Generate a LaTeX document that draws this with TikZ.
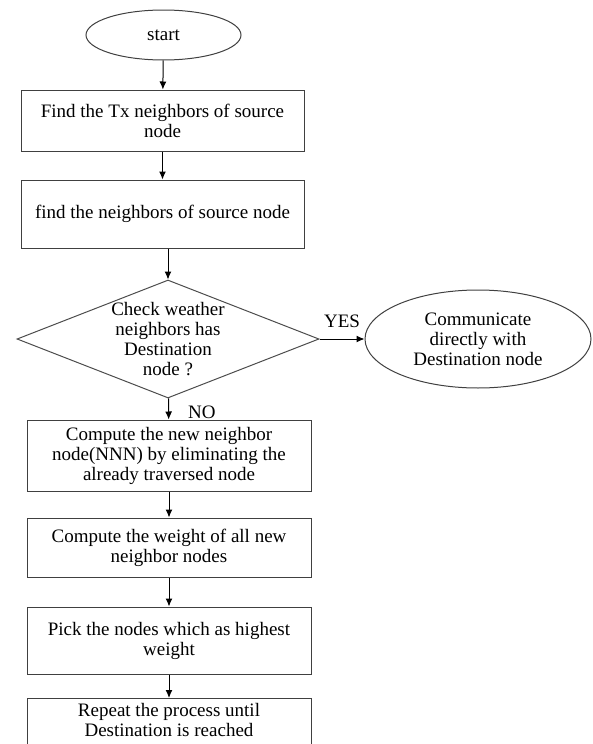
\documentclass[tikz,border=0pt]{standalone}
\usepackage{fontspec}
\setmainfont{Liberation Serif}
\usetikzlibrary{shapes.geometric,arrows.meta}

\begin{document}
\begin{tikzpicture}[x=1pt, y=-1pt, line width=1pt, >={Latex[length=8pt,width=7pt]},
    font=\fontsize{19}{20}\selectfont,
    box/.style = {draw=black!75, align=center, inner sep=0pt, minimum width=284pt},
    term/.style = {draw=black!75, ellipse, align=center, inner sep=0pt},
    decision/.style = {draw=black!70, diamond, align=center, inner sep=0pt, aspect=2.56},
    lbl/.style = {inner sep=0pt}]
    \useasboundingbox (0,0) rectangle (592,744);
    \node[term, minimum width=155pt, minimum height=50pt] (start) at (163.5,35) {start};
    \node[box, minimum width=283pt, minimum height=61pt] (find1) at (162.5,120.5) {Find the Tx neighbors of source\\node};
    \node[box, minimum width=283pt, minimum height=68pt] (find2) at (162.5,214) {find the neighbors of source node};
    \node[decision, minimum width=302pt, minimum height=118pt] (check) at (168,339) {Check weather\\neighbors has\\Destination\\node ?};
    \node[term, minimum width=226pt, minimum height=98pt] (comm) at (478,339) {Communicate\\directly with\\Destination node};
    \node[box, minimum height=71pt] (nnn) at (169,455.5) {Compute the new neighbor\\node(NNN) by eliminating the\\already traversed node};
    \node[box, minimum height=59pt] (weight) at (169,547.5) {Compute the weight of all new\\neighbor nodes};
    \node[box, minimum height=67pt] (pick) at (169,640.5) {Pick the nodes which as highest\\weight};
    \node[box, anchor=north, inner ysep=5pt, text depth=18pt] (repeat) at (169,698) {Repeat the process until\\Destination is reached};

    \path[->] (start) edge (find1);
    \path[->] (find1) edge (find2);
    \path[->] (find2.south -| check.north) edge (check);
    \path[->] (check) edge node[lbl, above=11pt] {YES} (comm);
    \path[->] (check) edge node[lbl, pos=0.64, right=19pt] {NO} (nnn);
    \path[->] (nnn) edge (weight);
    \path[->] (weight) edge (pick);
    \path[->] (pick) edge (repeat);
\end{tikzpicture}
\end{document}
